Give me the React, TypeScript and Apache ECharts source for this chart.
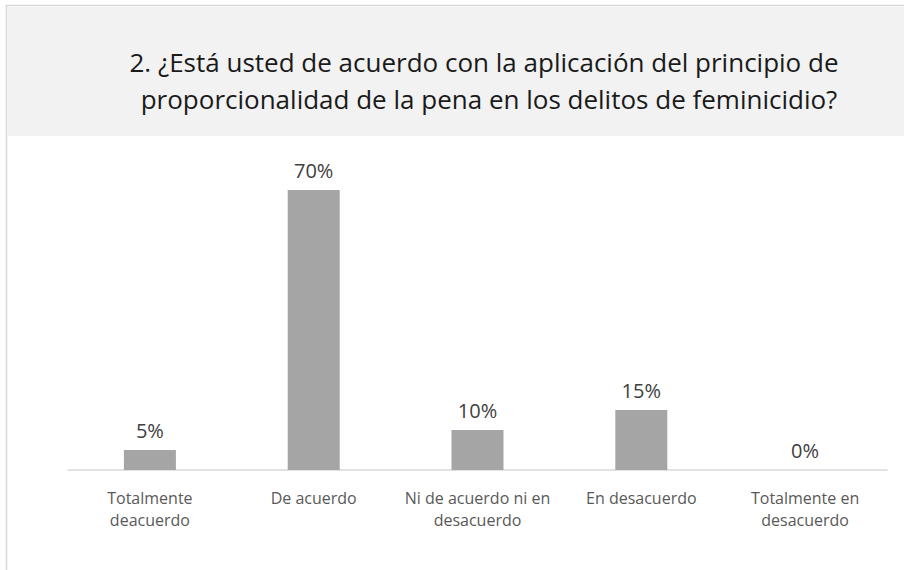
import React, { useEffect, useRef } from "react";
import * as echarts from "echarts";

const titleLines = [
  "2. ¿Está usted de acuerdo con la aplicación del principio de",
  "proporcionalidad de la pena en los delitos de feminicidio?",
];
const categories = [
  "Totalmente\ndeacuerdo",
  "De acuerdo",
  "Ni de acuerdo ni en\ndesacuerdo",
  "En desacuerdo",
  "Totalmente en\ndesacuerdo",
];
const values = [5, 70, 10, 15, 0];

const FONT = "'Open Sans'";

export default function App() {
  const ref = useRef<HTMLDivElement>(null);
  useEffect(() => {
    if (!ref.current) return;
    const chart = echarts.init(ref.current, null, { renderer: "svg" });
    chart.setOption({
      animation: false,
      backgroundColor: "#ffffff",
      graphic: [
        {
          type: "rect",
          z: -10,
          shape: { x: 6.5, y: 5.5, width: 1000, height: 700 },
          style: { fill: "#ffffff", stroke: "#d9d9d9", lineWidth: 1.5 },
        },
        {
          type: "rect",
          z: -9,
          shape: { x: 8, y: 7, width: 1000, height: 129 },
          style: { fill: "#f2f2f2" },
        },
        {
          type: "text",
          x: 484,
          y: 62,
          style: {
            text: titleLines[0],
            font: `26px ${FONT}`,
            fill: "#1a1a1a",
            textAlign: "center",
            textVerticalAlign: "middle",
          },
        },
        {
          type: "text",
          x: 489,
          y: 99,
          style: {
            text: titleLines[1],
            font: `26px ${FONT}`,
            fill: "#1a1a1a",
            textAlign: "center",
            textVerticalAlign: "middle",
          },
        },
      ],
      grid: { left: 68, right: 17, top: 150, bottom: 100, containLabel: false },
      xAxis: {
        type: "category",
        data: categories,
        axisLine: { show: true, lineStyle: { color: "#d9d9d9", width: 1.5 } },
        axisTick: { show: false },
        axisLabel: {
          interval: 0,
          color: "#595959",
          fontFamily: FONT,
          fontSize: 16,
          lineHeight: 22,
          margin: 17,
        },
      },
      yAxis: {
        type: "value",
        min: 0,
        max: 80,
        show: false,
        splitLine: { show: false },
      },
      series: [
        {
          type: "bar",
          data: values,
          barWidth: 52,
          itemStyle: { color: "#a5a5a5" },
          label: {
            show: true,
            position: "top",
            distance: 10,
            formatter: "{c}%",
            color: "#404040",
            fontFamily: FONT,
            fontSize: 20,
          },
        },
      ],
    });
    return () => chart.dispose();
  }, []);
  return (
    <div
      ref={ref}
      style={{ position: "fixed", left: 0, top: 0, width: 904, height: 570 }}
    />
  );
}
